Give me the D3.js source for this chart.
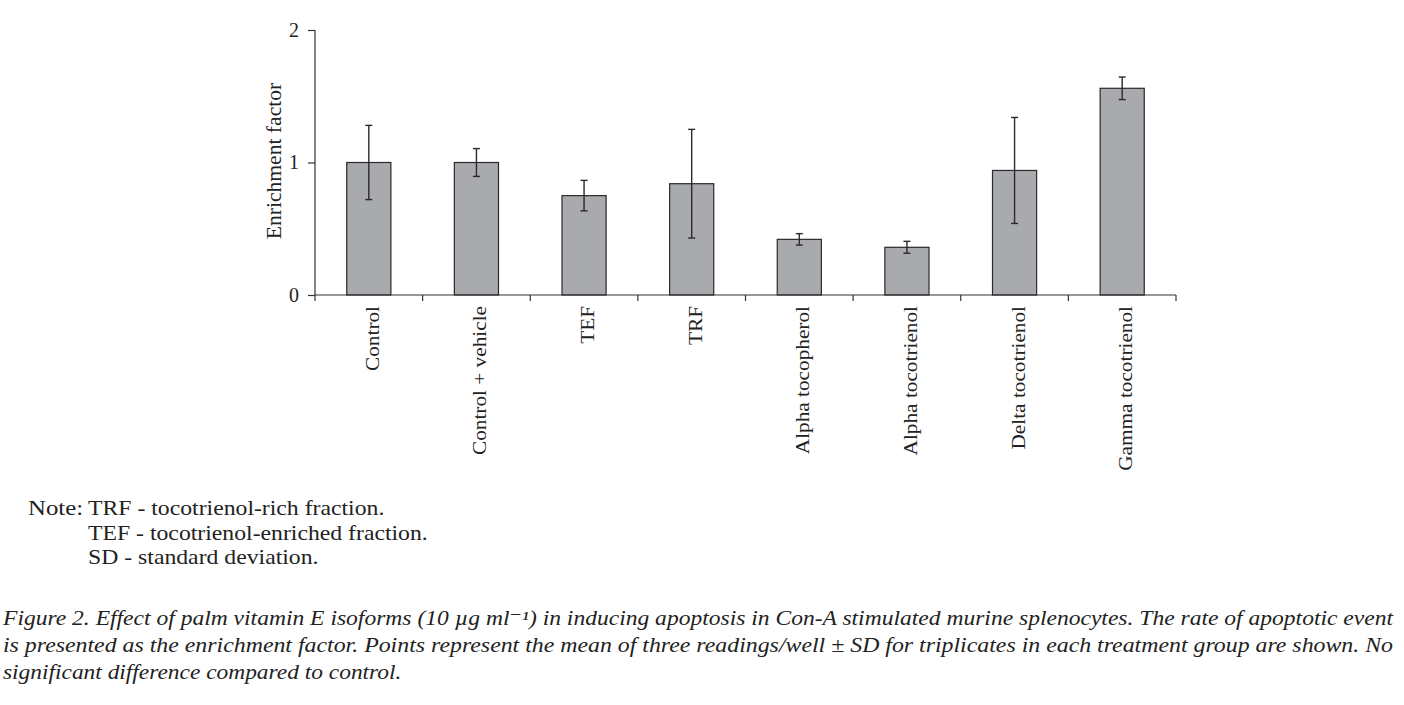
<!DOCTYPE html>
<html>
<head>
<meta charset="utf-8">
<script src="https://cdn.jsdelivr.net/npm/d3@7"></script>
<style>
  body { margin: 0; background: #fff; }
  text { font-family: "Liberation Serif", "DejaVu Serif", serif; fill: #222; }
</style>
</head>
<body>
<svg id="chart" width="1404" height="705"></svg>
<script>
// chart data
const categories = ["Control", "Control + vehicle", "TEF", "TRF", "Alpha tocopherol",
  "Alpha tocotrienol", "Delta tocotrienol", "Gamma tocotrienol"];
const means = [1.0, 1.0, 0.75, 0.84, 0.42, 0.36, 0.94, 1.56];
const sds = [0.28, 0.105, 0.115, 0.41, 0.043, 0.045, 0.40, 0.085];
const yTicks = [0, 1, 2];

const noteLines = ["TRF - tocotrienol-rich fraction.", "TEF - tocotrienol-enriched fraction.", "SD - standard deviation."];
const captionLines = [
  "Figure 2. Effect of palm vitamin E isoforms (10 \u00b5g ml\u207b\u00b9) in inducing apoptosis in Con-A stimulated murine splenocytes. The rate of apoptotic event",
  "is presented as the enrichment factor.  Points represent the mean of three readings/well \u00b1 SD for triplicates in each treatment group are shown. No",
  "significant difference compared to control."
];

const svg = d3.select("#chart");
const plotLeft = 315, plotRight = 1176, plotTop = 30, plotBottom = 295;

const x = d3.scaleBand().domain(categories).range([plotLeft, plotRight]).paddingInner(0.59).paddingOuter(0.295);
const y = d3.scaleLinear().domain([0, 2]).range([plotBottom, plotTop]);

// bars
svg.append("g")
  .selectAll("rect")
  .data(categories)
  .join("rect")
  .attr("x", d => x(d))
  .attr("y", (d, i) => y(means[i]))
  .attr("width", x.bandwidth())
  .attr("height", (d, i) => y(0) - y(means[i]))
  .attr("fill", "#a9aaad")
  .attr("stroke", "#2a2a2a")
  .attr("stroke-width", 1.2);

// error bars
const err = svg.append("g").attr("stroke", "#2a2a2a").attr("stroke-width", 1.4);
categories.forEach((c, i) => {
  const cx = x(c) + x.bandwidth() / 2;
  const y1 = y(means[i] + sds[i]), y2 = y(means[i] - sds[i]);
  err.append("line").attr("x1", cx).attr("x2", cx).attr("y1", y1).attr("y2", y2);
  err.append("line").attr("x1", cx - 3.5).attr("x2", cx + 3.5).attr("y1", y1).attr("y2", y1);
  err.append("line").attr("x1", cx - 3.5).attr("x2", cx + 3.5).attr("y1", y2).attr("y2", y2);
});

// y axis
const yAxis = svg.append("g")
  .attr("transform", `translate(${plotLeft},0)`)
  .call(d3.axisLeft(y).tickValues(yTicks).tickFormat(d3.format("d")).tickSize(7).tickPadding(9));
yAxis.select(".domain").attr("stroke", "#333").attr("stroke-width", 1.2).attr("d", `M0,${plotTop}V${plotBottom}`);
yAxis.selectAll(".tick line").attr("stroke", "#333").attr("stroke-width", 1.2);
yAxis.selectAll(".tick text").style("font-size", "20px").attr("fill", "#222");

// x axis with ticks between categories
const xAxis = svg.append("g").attr("transform", `translate(0,${plotBottom})`);
xAxis.append("path")
  .attr("d", `M${plotLeft},0H${plotRight}`)
  .attr("stroke", "#333").attr("stroke-width", 1.2);
xAxis.selectAll("line.sep")
  .data(d3.range(categories.length + 1))
  .join("line")
  .attr("class", "sep")
  .attr("x1", i => plotLeft + i * x.step())
  .attr("x2", i => plotLeft + i * x.step())
  .attr("y1", 0).attr("y2", 6)
  .attr("stroke", "#333").attr("stroke-width", 1.2);
xAxis.selectAll("text")
  .data(categories)
  .join("text")
  .attr("transform", d => `translate(${x(d) + x.bandwidth() / 2 + 10},11) rotate(-90) scale(1.12,1)`)
  .attr("text-anchor", "end")
  .style("font-size", "19px")
  .text(d => d);

// y label
svg.append("text")
  .attr("transform", "translate(281,161) rotate(-90) scale(1.08,1)")
  .attr("text-anchor", "middle")
  .style("font-size", "20px")
  .text("Enrichment factor");

// note
svg.append("text").attr("transform", "translate(28,515) scale(1.18,1)").style("font-size", "21px").text("Note:");
svg.append("g").selectAll("text")
  .data(noteLines)
  .join("text")
  .attr("transform", (d, i) => `translate(88,${515 + i * 24.5}) scale(1.13,1)`)
  .style("font-size", "21px")
  .text(d => d);

// caption, first two lines justified to the full width
const cap = svg.append("g").selectAll("text")
  .data(captionLines)
  .join("text")
  .attr("x", 3)
  .attr("y", (d, i) => 625 + i * 27)
  .style("font-size", "20px")
  .style("font-style", "italic")
  .text(d => d);
cap.each(function (d, i) {
  const natural = this.getComputedTextLength();
  d3.select(this)
    .attr("textLength", i < 2 ? 1390 : natural * 1.17)
    .attr("lengthAdjust", "spacingAndGlyphs");
});
</script>
</body>
</html>
